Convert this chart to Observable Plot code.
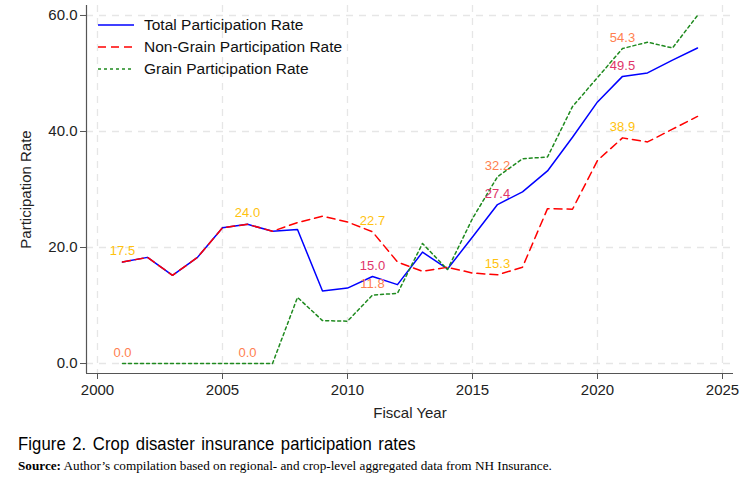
<!DOCTYPE html>
<html>
<head>
<meta charset="utf-8">
<script src="https://cdn.jsdelivr.net/npm/d3@7"></script>
<script src="https://cdn.jsdelivr.net/npm/@observablehq/plot@0.6"></script>
<style>
  body { margin: 0; background: #fff; }
  #wrap { position: relative; width: 753px; }
  #legend { position: absolute; left: 98px; top: 14px; font-family: "Liberation Sans", Arial, sans-serif; font-size: 15.5px; color: #111; }
  #legend .row { display: flex; align-items: center; height: 22px; }
  #legend svg { margin-right: 10px; }
  .cap1 { font-family: "Liberation Sans", Arial, sans-serif; font-size: 18.5px; margin: 8px 0 0 18px; letter-spacing: 0.1px; word-spacing: 2px; transform: scaleX(0.9); transform-origin: left; white-space: nowrap; }
  .cap2 { font-family: "Liberation Serif", "Times New Roman", serif; font-size: 13.2px; margin: 3px 0 0 18px; white-space: nowrap; }
</style>
</head>
<body>
<div id="wrap"></div>
<script>
const years = d3.range(2001, 2025);
const total = [17.5, 18.3, 15.2, 18.3, 23.4, 24.0, 22.8, 23.1, 12.5, 13.0, 15.0, 13.6, 19.2, 16.3, 21.8, 27.4, 29.6, 33.2, 39.0, 45.1, 49.5, 50.1, 52.3, 54.4];
const nonGrain = [17.5, 18.3, 15.2, 18.3, 23.4, 24.0, 22.8, 24.3, 25.4, 24.4, 22.7, 17.5, 15.9, 16.6, 15.6, 15.3, 16.6, 26.7, 26.6, 35.0, 38.9, 38.2, 40.4, 42.6];
const grain = [0.0, 0.0, 0.0, 0.0, 0.0, 0.0, 0.0, 11.4, 7.4, 7.3, 11.8, 12.1, 20.7, 16.2, 25.0, 32.2, 35.3, 35.6, 44.3, 49.3, 54.3, 55.4, 54.4, 60.0];
const seriesNames = ["Total Participation Rate", "Non-Grain Participation Rate", "Grain Participation Rate"];
const seriesColors = ["#0000ff", "#ff0000", "#1f8a1f"];
const seriesDash = [null, "8,5", "3,3"];
const xTicks = [2000, 2005, 2010, 2015, 2020, 2025];
const yTicks = [0, 20, 40, 60];
const labelYears = [2001, 2006, 2011, 2016, 2021];
const xDomain = [1999.56, 2025.44];
const yDomain = [-1.72, 61.72];

const seriesValues = [total, nonGrain, grain];
const data = [];
seriesValues.forEach((vals, s) => vals.forEach((v, i) => data.push({year: years[i], value: v, series: seriesNames[s]})));

const gold = "#ffc20e", crimson = "#e0356a", coral = "#ff7f50";
const labels = [];
labelYears.forEach(yr => {
  const i = years.indexOf(yr);
  const t = total[i], n = nonGrain[i], g = grain[i];
  if (Math.abs(t - n) < 0.05) {
    labels.push({year: yr, value: t, text: t.toFixed(1), color: gold});
  } else {
    labels.push({year: yr, value: t, text: t.toFixed(1), color: crimson});
    labels.push({year: yr, value: n, text: n.toFixed(1), color: gold});
  }
  labels.push({year: yr, value: g, text: g.toFixed(1), color: coral});
});

const font = "Liberation Sans, Arial, sans-serif";
const chart = Plot.plot({
  width: 753,
  height: 425,
  marginLeft: 86,
  marginRight: 20,
  marginTop: 5,
  marginBottom: 52,
  style: {fontFamily: font, fontSize: "15px", color: "#222", background: "#fff"},
  x: {domain: xDomain, ticks: xTicks, tickFormat: d => String(d), tickSize: 6, tickPadding: 5, label: "Fiscal Year", labelAnchor: "center", labelArrow: "none", labelOffset: 44},
  y: {domain: yDomain, ticks: yTicks, tickFormat: d => d.toFixed(1), tickSize: 6, tickPadding: 3, label: "Participation Rate", labelAnchor: "center", labelArrow: "none", labelOffset: 66},
  marks: [
    Plot.ruleX(xTicks, {stroke: "#e6e6e6", strokeWidth: 1.3, strokeDasharray: "7,6"}),
    Plot.ruleY(yTicks, {stroke: "#e6e6e6", strokeWidth: 1.3, strokeDasharray: "7,6"}),
    Plot.ruleX([xDomain[0]], {stroke: "#555", strokeWidth: 1.2}),
    Plot.ruleY([yDomain[0]], {stroke: "#555", strokeWidth: 1.2}),
    ...seriesNames.map((name, s) => Plot.line(data.filter(d => d.series === name), {
      x: "year", y: "value", stroke: seriesColors[s], strokeWidth: 1.5,
      strokeDasharray: seriesDash[s], curve: "linear"
    })),
    Plot.text(labels, {x: "year", y: "value", text: "text", fill: "color", dy: -11, fontSize: 13, fontFamily: font})
  ]
});
chart.querySelectorAll("[aria-label='x-axis tick'] path, [aria-label='y-axis tick'] path").forEach(p => p.setAttribute("stroke", "#555"));
const wrap = document.getElementById("wrap");
wrap.appendChild(chart);

const legend = document.createElement("div");
legend.id = "legend";
seriesNames.forEach((name, s) => {
  const row = document.createElement("div");
  row.className = "row";
  row.innerHTML = `<svg width="36" height="4"><line x1="0" y1="2" x2="36" y2="2" stroke="${seriesColors[s]}" stroke-width="1.6" ${seriesDash[s] ? `stroke-dasharray="${seriesDash[s]}"` : ""}/></svg><span>${name}</span>`;
  legend.appendChild(row);
});
wrap.appendChild(legend);

const c1 = document.createElement("div");
c1.className = "cap1";
c1.textContent = "Figure 2. Crop disaster insurance participation rates";
const c2 = document.createElement("div");
c2.className = "cap2";
c2.innerHTML = "<b>Source:</b> Author\u2019s compilation based on regional- and crop-level aggregated data from NH Insurance.";
wrap.appendChild(c1);
wrap.appendChild(c2);
</script>
</body>
</html>
